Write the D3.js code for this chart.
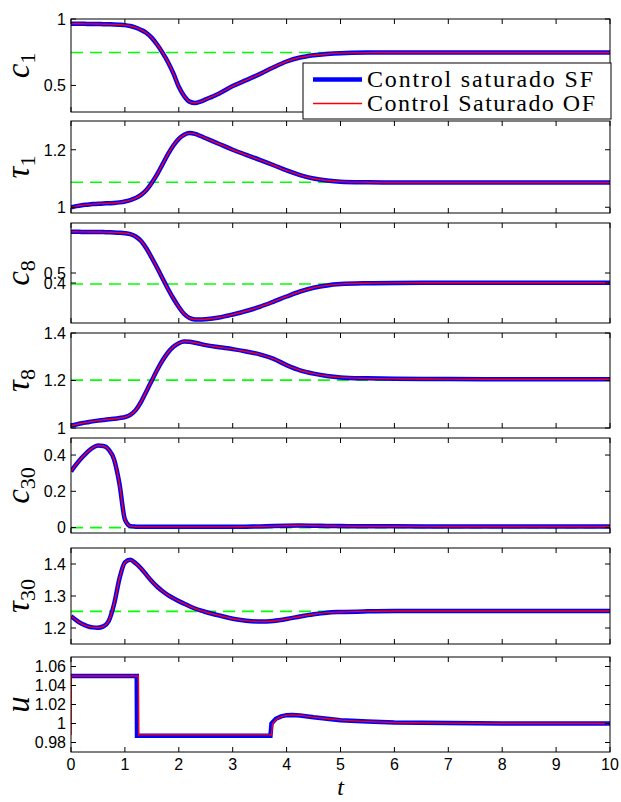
<!DOCTYPE html>
<html><head><meta charset="utf-8">
<script src="https://cdn.jsdelivr.net/npm/d3@7"></script>
<style>body{margin:0;background:#fff}svg{display:block}</style>
</head><body><svg id="chart" width="621" height="802"></svg>
<script>
// ---------- DATA ----------
const tGrid = [0,0.1,0.2,0.3,0.4,0.5,0.6,0.7,0.8,0.9,1.0,1.1,1.2,1.3,1.4,1.5,1.6,1.7,1.8,1.9,2.0,2.1,2.2,2.3,2.4,2.5,
  2.75,3.0,3.25,3.5,3.75,4.0,4.25,4.5,4.75,5.0,5.5,6,7,8,9,10];

const c1 = [0.965,0.964,0.964,0.963,0.963,0.962,0.961,0.960,0.959,0.957,0.954,0.947,0.935,0.918,0.895,0.858,0.806,0.745,0.675,0.590,0.490,0.420,0.378,0.368,0.378,0.395,
  0.440,0.495,0.540,0.585,0.635,0.680,0.710,0.727,0.737,0.743,0.747,0.748,0.748,0.748,0.748,0.748];
const tau1 = [1.000,1.004,1.007,1.009,1.011,1.012,1.013,1.014,1.015,1.017,1.020,1.025,1.032,1.043,1.060,1.085,1.115,1.150,1.185,1.215,1.238,1.252,1.258,1.255,1.248,1.240,
  1.220,1.200,1.182,1.165,1.147,1.128,1.112,1.100,1.093,1.089,1.087,1.086,1.086,1.086,1.086,1.086];
const c8 = [0.912,0.912,0.911,0.911,0.910,0.910,0.909,0.908,0.906,0.903,0.898,0.888,0.865,0.820,0.745,0.650,0.550,0.445,0.340,0.245,0.160,0.090,0.050,0.036,0.035,0.038,
  0.055,0.085,0.120,0.162,0.212,0.265,0.315,0.352,0.376,0.389,0.398,0.401,0.402,0.402,0.402,0.402];
const tau8 = [1.010,1.015,1.020,1.024,1.028,1.031,1.034,1.037,1.039,1.042,1.046,1.055,1.075,1.110,1.155,1.200,1.245,1.285,1.318,1.342,1.357,1.364,1.363,1.359,1.354,1.349,
  1.340,1.332,1.322,1.310,1.292,1.265,1.243,1.229,1.219,1.213,1.209,1.207,1.206,1.205,1.205,1.205];
const c30 = [0.310,0.350,0.385,0.415,0.440,0.452,0.450,0.430,0.375,0.240,0.045,0.008,0.005,0.004,0.004,0.004,0.004,0.004,0.004,0.004,0.004,0.004,0.004,0.004,0.004,0.004,
  0.004,0.004,0.005,0.006,0.008,0.010,0.011,0.010,0.009,0.008,0.007,0.007,0.006,0.006,0.006,0.006];
const tau30 = [1.237,1.224,1.213,1.206,1.202,1.201,1.205,1.222,1.275,1.355,1.405,1.413,1.402,1.386,1.366,1.346,1.329,1.315,1.303,1.293,1.284,1.276,1.268,1.261,1.255,1.250,
  1.239,1.229,1.223,1.220,1.222,1.228,1.236,1.243,1.248,1.250,1.252,1.253,1.253,1.253,1.253,1.253];

// control input (piecewise)
const uTimeSF = [0,1.22,1.225,3.70,3.72,3.80,3.90,4.00,4.10,4.25,4.50,4.75,5.00,5.50,6.00,7.00,8.00,10];
const uSF     = [1.05,1.05,0.987,0.987,1.000,1.005,1.0075,1.0088,1.009,1.0085,1.0065,1.005,1.0035,1.002,1.001,1.0004,1.000,1.000];
const uTimeOF = [0,0.005,1.25,1.255,3.72,3.74,3.82,3.92,4.02,4.12,4.27,4.52,4.77,5.02,5.52,6.02,7.00,8.00,10];
const uOF     = [0.988,1.05,1.05,0.988,0.988,1.000,1.005,1.0075,1.0088,1.009,1.0085,1.0065,1.005,1.0035,1.002,1.001,1.0004,1.000,1.000];

// reference (set-point) levels, dashed green
const refLevels = [0.748, 1.087, 0.39, 1.202, 0, 1.252];

// tick labels
const xTicks = [0,1,2,3,4,5,6,7,8,9,10];
const yTicksC1 = [0.5,1];
const yTicksTau1 = [1,1.2];
const yTicksC8 = [0.4,0.5];
const yTicksTau8 = [1,1.2,1.4];
const yTicksC30 = [0,0.2,0.4];
const yTicksTau30 = [1.2,1.3,1.4];
const yTicksU = [0.98,1,1.02,1.04,1.06];

const legendLabels = ["Control saturado SF","Control Saturado OF"];

// ---------- LAYOUT ----------
const svg = d3.select("#chart");
const X0 = 71, X1 = 610;
const x = d3.scaleLinear().domain([0,10]).range([X0,X1]);

const panels = [
  {top:19,  bottom:112, dom:[0.30,1.00],  ticks:yTicksC1,   t:tGrid, sf:c1,   of:c1,   ref:refLevels[0], lab:"c",   sub:"1"},
  {top:121, bottom:213, dom:[0.98,1.30],  ticks:yTicksTau1, t:tGrid, sf:tau1, of:tau1, ref:refLevels[1], lab:"\u03C4", sub:"1"},
  {top:223, bottom:323, dom:[0,1],        ticks:yTicksC8,   t:tGrid, sf:c8,   of:c8,   ref:refLevels[2], lab:"c",   sub:"8"},
  {top:333, bottom:428, dom:[1,1.4],      ticks:yTicksTau8, t:tGrid, sf:tau8, of:tau8, ref:refLevels[3], lab:"\u03C4", sub:"8"},
  {top:438, bottom:533, dom:[-0.03,0.494],ticks:yTicksC30,  t:tGrid, sf:c30,  of:c30,  ref:refLevels[4], lab:"c",   sub:"30"},
  {top:548, bottom:644, dom:[1.15,1.45],  ticks:yTicksTau30,t:tGrid, sf:tau30,of:tau30,ref:refLevels[5], lab:"\u03C4", sub:"30"},
  {top:657, bottom:752, dom:[0.97,1.07],  ticks:yTicksU,    tSF:uTimeSF, tOF:uTimeOF, sf:uSF, of:uOF, ref:null, lab:"u", sub:"", step:true}
];

const TICK = 5;
panels.forEach((p,i)=>{
  const y = d3.scaleLinear().domain(p.dom).range([p.bottom,p.top]);
  const g = svg.append("g");
  const cid = "clip"+i;
  svg.append("clipPath").attr("id",cid).append("rect")
    .attr("x",X0).attr("y",p.top).attr("width",X1-X0).attr("height",p.bottom-p.top);

  const plot = g.append("g").attr("clip-path",`url(#${cid})`);
  if (p.ref !== null) {
    plot.append("line").attr("x1",x(0)).attr("x2",x(10)).attr("y1",y(p.ref)).attr("y2",y(p.ref))
      .attr("stroke","#00ff00").attr("stroke-width",1.7).attr("stroke-dasharray","12,7");
  }
  const tS = p.step ? p.tSF : p.t;
  const tO = p.step ? p.tOF : p.t;
  const line = d3.line().curve(p.step ? d3.curveLinear : d3.curveMonotoneX);
  plot.append("path").attr("d", line(p.sf.map((v,k)=>[x(tS[k]),y(v)])))
    .attr("fill","none").attr("stroke","#0000ff").attr("stroke-width",4.5);
  plot.append("path").attr("d", line(p.of.map((v,k)=>[x(tO[k]),y(v)])))
    .attr("fill","none").attr("stroke","#ff0000").attr("stroke-width",1.4);

  // frame
  g.append("rect").attr("x",X0).attr("y",p.top).attr("width",X1-X0).attr("height",p.bottom-p.top)
    .attr("fill","none").attr("stroke","#000").attr("stroke-width",1);

  // x ticks (inward, top and bottom)
  xTicks.forEach(v=>{
    g.append("line").attr("x1",x(v)).attr("x2",x(v)).attr("y1",p.bottom).attr("y2",p.bottom-TICK).attr("stroke","#000");
    g.append("line").attr("x1",x(v)).attr("x2",x(v)).attr("y1",p.top).attr("y2",p.top+TICK).attr("stroke","#000");
  });
  // y ticks (inward, left and right) + labels
  p.ticks.forEach(v=>{
    g.append("line").attr("x1",X0).attr("x2",X0+TICK).attr("y1",y(v)).attr("y2",y(v)).attr("stroke","#000");
    g.append("line").attr("x1",X1).attr("x2",X1-TICK).attr("y1",y(v)).attr("y2",y(v)).attr("stroke","#000");
    g.append("text").attr("x",X0-5).attr("y",y(v)).attr("dy","0.36em")
      .attr("text-anchor","end").attr("font-family","Liberation Sans, Arial, sans-serif")
      .attr("font-size",16).attr("fill","#000").text(String(v));
  });

  // y label (rotated, italic serif with subscript)
  const cy = (p.top+p.bottom)/2;
  const lt = g.append("text").attr("transform",`translate(29,${cy}) rotate(-90)`)
    .attr("text-anchor","middle").attr("font-family","Liberation Serif, Times New Roman, serif")
    .attr("font-style","italic").attr("font-size",33).attr("fill","#000");
  lt.append("tspan").text(p.lab);
  if (p.sub) lt.append("tspan").attr("font-style","normal").attr("font-size",22).attr("dy",6).text(p.sub);

  if (i === panels.length-1) {
    xTicks.forEach(v=>{
      g.append("text").attr("x",x(v)).attr("y",p.bottom+18).attr("text-anchor","middle")
        .attr("font-family","Liberation Sans, Arial, sans-serif").attr("font-size",16).text(String(v));
    });
    g.append("text").attr("x",x(5)).attr("y",795).attr("text-anchor","middle")
      .attr("font-family","Liberation Serif, Times New Roman, serif").attr("font-style","italic")
      .attr("font-size",24).text("t");
  }
});

// legend
const lg = svg.append("g");
lg.append("rect").attr("x",303).attr("y",63).attr("width",308).attr("height",56)
  .attr("fill","#fff").attr("stroke","#000").attr("stroke-width",1);
const legColors = ["#0000ff","#ff0000"], legW = [4.5,1.4], legY = [79.5,103.5];
legendLabels.forEach((s,k)=>{
  lg.append("line").attr("x1",313).attr("x2",362).attr("y1",legY[k]).attr("y2",legY[k])
    .attr("stroke",legColors[k]).attr("stroke-width",legW[k]);
  lg.append("text").attr("x",367).attr("y",legY[k]+7.5)
    .attr("font-family","Liberation Serif, Times New Roman, serif").attr("font-size",24)
    .attr("textLength",k===0?226:228).attr("lengthAdjust","spacing").text(s);
});
</script></body></html>
